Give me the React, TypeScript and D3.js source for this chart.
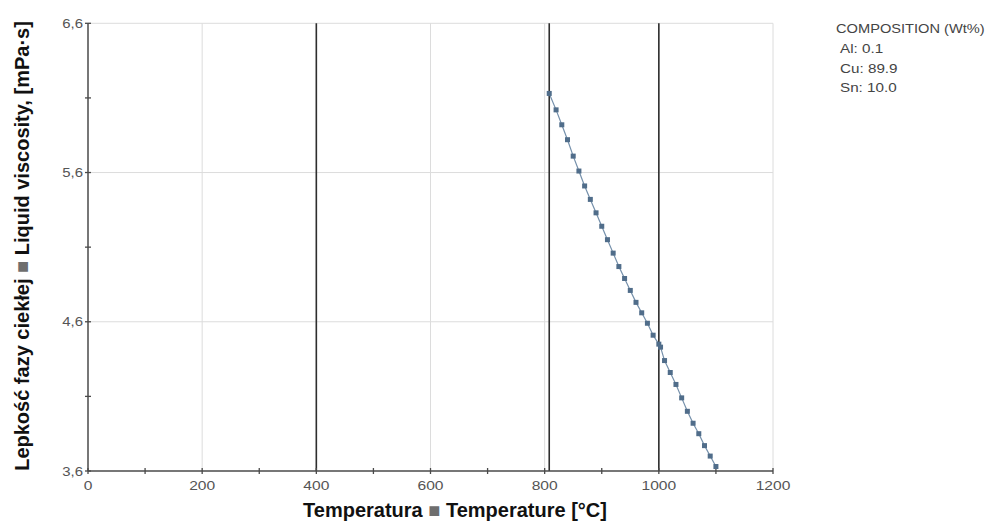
import React, { useEffect, useRef } from "react";
import * as d3 from "d3";

// liquid viscosity of the Cu-Sn-Al alloy
const temperature = [
    808, 820, 830, 840, 850, 860, 870, 880, 890, 900, 910, 920, 930, 940, 950, 960,
    970, 980, 990, 1000, 1003, 1010, 1020, 1030, 1040, 1050, 1060, 1070, 1080, 1090, 1100,
];
const viscosity = [
    6.13, 6.02, 5.92, 5.82, 5.71, 5.61, 5.51, 5.42, 5.33, 5.24, 5.15, 5.06, 4.97, 4.89, 4.81, 4.73,
    4.66, 4.59, 4.51, 4.45, 4.43, 4.34, 4.26, 4.18, 4.09, 4.0, 3.92, 3.85, 3.77, 3.7, 3.63,
];

const xTicks = [0, 200, 400, 600, 800, 1000, 1200];
const xMinorTicks = [100, 300, 500, 700, 900, 1100];
const yTicks = [3.6, 4.6, 5.6, 6.6];
const yMinorTicks = [4.1, 5.1, 6.1];
const markerLines = [400, 808, 1000];

const compositionTitle = "COMPOSITION (Wt%)";
const composition = ["Al: 0.1", "Cu: 89.9", "Sn: 10.0"];

const font = "'Liberation Sans', Arial, sans-serif";

const App = () => {
    const chartRef = useRef<SVGSVGElement>(null);

    useEffect(() => {
        const svg = d3.select(chartRef.current);
        svg.selectAll("*").remove(); // Clear previous chart

        const xScale = d3.scaleLinear().domain([0, 1200]).range([88, 773]);
        const yScale = d3.scaleLinear().domain([3.6, 6.6]).range([471, 23.3]);
        const [x0, x1] = xScale.range();
        const [y0, y1] = yScale.range();

        // small labels look horizontally stretched in the original
        const smallText = (
            px: number, py: number, str: string, anchor: string,
            size: number, fill: string, sx = 1.2
        ) =>
            svg.append("text")
                .attr("transform", `translate(${px},${py}) scale(${sx},1)`)
                .attr("text-anchor", anchor)
                .attr("font-family", font)
                .attr("font-size", size)
                .attr("fill", fill)
                .text(str);

        // grid
        svg.selectAll(".hgrid")
            .data(yTicks.filter((d) => d !== 3.6))
            .join("line")
            .attr("x1", x0).attr("x2", x1)
            .attr("y1", (d) => yScale(d)).attr("y2", (d) => yScale(d))
            .attr("stroke", "#dcdcdc");

        svg.selectAll(".vgrid")
            .data(xTicks.filter((d) => d !== 0))
            .join("line")
            .attr("x1", (d) => xScale(d)).attr("x2", (d) => xScale(d))
            .attr("y1", y0).attr("y2", y1)
            .attr("stroke", "#dcdcdc");

        svg.selectAll(".marker")
            .data(markerLines)
            .join("line")
            .attr("x1", (d) => xScale(d)).attr("x2", (d) => xScale(d))
            .attr("y1", y0).attr("y2", y1)
            .attr("stroke", "#2e2e2e")
            .attr("stroke-width", 1.6);

        // axes
        svg.append("line")
            .attr("x1", x0).attr("x2", x0).attr("y1", y0).attr("y2", y1)
            .attr("stroke", "#4a4a4a").attr("stroke-width", 1.5);
        svg.append("line")
            .attr("x1", x0).attr("x2", x1).attr("y1", y0).attr("y2", y0)
            .attr("stroke", "#4a4a4a").attr("stroke-width", 1.5);

        svg.selectAll(".xtick")
            .data([...xTicks, ...xMinorTicks])
            .join("line")
            .attr("x1", (d) => xScale(d)).attr("x2", (d) => xScale(d))
            .attr("y1", y0 - 3).attr("y2", y0 + 3)
            .attr("stroke", "#4a4a4a").attr("stroke-width", 1.3);

        svg.selectAll(".ytick")
            .data([...yTicks, ...yMinorTicks])
            .join("line")
            .attr("x1", x0 - 3).attr("x2", x0 + 3)
            .attr("y1", (d) => yScale(d)).attr("y2", (d) => yScale(d))
            .attr("stroke", "#4a4a4a").attr("stroke-width", 1.3);

        xTicks.forEach((d) => smallText(xScale(d), 490, String(d), "middle", 13, "#555"));
        yTicks.forEach((d) =>
            smallText(83, yScale(d) + 4.6, d.toFixed(1).replace(".", ","), "end", 13, "#555", 1.15)
        );

        // series
        const points = temperature.map((t, i) => ({ t, v: viscosity[i] }));
        const line = d3.line<{ t: number; v: number }>()
            .x((d) => xScale(d.t))
            .y((d) => yScale(d.v));

        svg.append("path")
            .datum(points)
            .attr("fill", "none")
            .attr("stroke", "#7590ab")
            .attr("stroke-width", 1.2)
            .attr("d", line);

        svg.selectAll(".pt")
            .data(points)
            .join("rect")
            .attr("x", (d) => xScale(d.t) - 2.5)
            .attr("y", (d) => yScale(d.v) - 2.5)
            .attr("width", 5)
            .attr("height", 5)
            .attr("fill", "#506d8a");

        // axis titles
        const xTitle = svg.append("text")
            .attr("x", 455).attr("y", 517)
            .attr("text-anchor", "middle")
            .attr("font-family", font).attr("font-size", 20).attr("font-weight", "bold")
            .attr("fill", "#111");
        xTitle.append("tspan").text("Temperatura ");
        xTitle.append("tspan").attr("fill", "#6e6e6e").text("■");
        xTitle.append("tspan").text(" Temperature [°C]");

        const yTitle = svg.append("text")
            .attr("transform", "translate(29,246) rotate(-90)")
            .attr("text-anchor", "middle")
            .attr("font-family", font).attr("font-size", 20).attr("font-weight", "bold")
            .attr("fill", "#111");
        yTitle.append("tspan").text("Lepkość fazy ciekłej ");
        yTitle.append("tspan").attr("fill", "#6e6e6e").text("■");
        yTitle.append("tspan").text(" Liquid viscosity, [mPa·s]");

        // composition note
        smallText(836, 33, compositionTitle, "start", 12, "#444", 1.22);
        composition.forEach((c, i) => smallText(840, 53 + i * 19.5, c, "start", 12, "#444", 1.27));
    }, []);

    return (
        <svg
            ref={chartRef}
            width={987}
            height={522}
            style={{ position: "absolute", left: 0, top: 0, background: "#fff" }}
        />
    );
};

export default App;
